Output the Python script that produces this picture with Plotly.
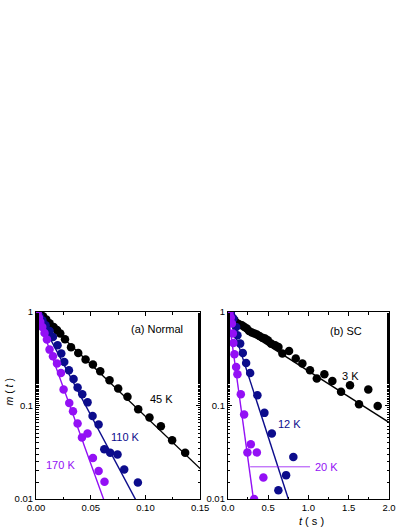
import numpy as np
import plotly.graph_objects as go

# ---------------- data: panel (a) Normal ----------------
t_a_45 = [0.0033, 0.0064, 0.0094, 0.0124, 0.0161, 0.0192, 0.0222, 0.0265, 0.032, 0.0386, 0.0453,
          0.052, 0.0587, 0.0672, 0.0751, 0.0836, 0.0934, 0.1037, 0.1141, 0.1244, 0.1363]
m_a_45 = [0.96, 0.90, 0.83, 0.76, 0.69, 0.64, 0.59, 0.51, 0.42, 0.365, 0.31,
          0.274, 0.232, 0.186, 0.152, 0.124, 0.091, 0.0745, 0.060, 0.0426, 0.0312]
t_a_110 = [0.0015, 0.0033, 0.0058, 0.0088, 0.0124, 0.0155, 0.0197, 0.0231, 0.0258, 0.0301, 0.0343,
           0.0380, 0.0423, 0.0471, 0.0517, 0.0572, 0.0624, 0.0678, 0.0745, 0.0806, 0.0931]
m_a_110 = [0.975, 0.90, 0.815, 0.72, 0.627, 0.541, 0.441, 0.36, 0.292, 0.238, 0.192,
           0.156, 0.132, 0.108, 0.0774, 0.0627, 0.0341, 0.0312, 0.030, 0.0207, 0.0150]
t_a_170 = [0.0015, 0.0027, 0.0039, 0.0057, 0.0078, 0.0100, 0.0124, 0.0155, 0.0192, 0.0228,
           0.0252, 0.0304, 0.0338, 0.0380, 0.0420, 0.0471, 0.0520, 0.0572, 0.0626]
m_a_170 = [0.975, 0.871, 0.782, 0.691, 0.597, 0.507, 0.396, 0.336, 0.281, 0.223,
           0.148, 0.1066, 0.0869, 0.0642, 0.0455, 0.0502, 0.0275, 0.0199, 0.0153]

# fits m = A exp(-t/tau)
fit_a = {"45 K": (1.0, 0.0389), "110 K": (1.0, 0.0197), "170 K": (1.0, 0.0134)}

# ---------------- data: panel (b) SC ----------------
t_b_3 = [0.03, 0.050, 0.082, 0.112, 0.140, 0.174, 0.206, 0.236, 0.264, 0.298, 0.330, 0.360, 0.392,
         0.429, 0.462, 0.496, 0.537, 0.587, 0.628, 0.677, 0.760, 0.843, 0.925, 1.020, 1.104,
         1.198, 1.297, 1.405, 1.516, 1.628, 1.743, 1.860]
m_b_3 = [0.97, 0.885, 0.815, 0.763, 0.739, 0.721, 0.692, 0.665, 0.627, 0.602, 0.588, 0.574, 0.554,
         0.532, 0.520, 0.499, 0.459, 0.441, 0.423, 0.360, 0.383, 0.318, 0.281, 0.238, 0.194,
         0.216, 0.183, 0.140, 0.165, 0.103, 0.148, 0.099]
t_b_12 = [0.037, 0.069, 0.103, 0.119, 0.153, 0.186, 0.227, 0.277, 0.367, 0.454, 0.546, 0.627, 0.723, 0.813]
m_b_12 = [0.975, 0.85, 0.691, 0.564, 0.459, 0.365, 0.285, 0.223, 0.129, 0.0834, 0.0502, 0.0124, 0.018, 0.0282]
t_b_20 = [0.020, 0.037, 0.050, 0.062, 0.069, 0.082, 0.103, 0.119, 0.161, 0.202, 0.243, 0.285, 0.326, 0.360, 0.441]
m_b_20 = [0.975, 0.871, 0.752, 0.588, 0.467, 0.353, 0.258, 0.216, 0.132, 0.080, 0.0315, 0.0386, 0.0100, 0.0315, 0.017]

fit_b = {"3 K": (0.83, 0.79, 0.35), "12 K": (1.0, 0.163, 0.0), "20 K": (1.0, 0.069, 0.0)}

leader_20K_t = [0.277, 1.02]
leader_20K_m = [0.0221, 0.0221]

BLACK = "#000000"
BLUE = "#0c0c8c"
PURPLE = "#9310f5"
FONT = "Liberation Sans, Arial, sans-serif"

fig = go.Figure()

def add_points(t, m, color, xa, ya):
    fig.add_trace(go.Scatter(x=t, y=m, mode="markers", xaxis=xa, yaxis=ya,
                             marker=dict(size=8.5, color=color, line=dict(width=0)),
                             showlegend=False))

def add_fit(A, tau, t0, t1, color, xa, ya):
    tt = np.linspace(t0, t1, 200)
    fig.add_trace(go.Scatter(x=tt, y=A * np.exp(-tt / tau), mode="lines", xaxis=xa, yaxis=ya,
                             line=dict(color=color, width=1.4), showlegend=False))

# panel a
add_fit(*fit_a["45 K"], 0, 0.16, BLACK, "x", "y")
add_fit(*fit_a["110 K"], 0, 0.1, BLUE, "x", "y")
add_fit(*fit_a["170 K"], 0, 0.07, PURPLE, "x", "y")
add_points(t_a_45, m_a_45, BLACK, "x", "y")
add_points(t_a_110, m_a_110, BLUE, "x", "y")
add_points(t_a_170, m_a_170, PURPLE, "x", "y")

# panel b
A, tau, t0 = fit_b["3 K"]
add_fit(A, tau, t0, 2.05, BLACK, "x2", "y2")
A, tau, t0 = fit_b["12 K"]
add_fit(A, tau, t0, 0.8, BLUE, "x2", "y2")
A, tau, t0 = fit_b["20 K"]
add_fit(A, tau, t0, 0.35, PURPLE, "x2", "y2")
fig.add_trace(go.Scatter(x=leader_20K_t, y=leader_20K_m, mode="lines", xaxis="x2", yaxis="y2",
                         line=dict(color=PURPLE, width=0.8), showlegend=False))
add_points(t_b_3, m_b_3, BLACK, "x2", "y2")
add_points(t_b_12, m_b_12, BLUE, "x2", "y2")
add_points(t_b_20, m_b_20, PURPLE, "x2", "y2")

# body margin is removed in the page (post_script), so figure pixel = screen pixel
OFF = 0
W, H = 409 - OFF, 529 - OFF
ML, MT = 35.7 - OFF, 311.7 - OFF
MR = W - (389 - OFF)
MB = H - (499 - OFF)
PW, PH = W - ML - MR, H - MT - MB

def px(sx):
    return (sx - OFF - ML) / PW

def py(sy):
    return 1 - (sy - OFF - MT) / PH

common_ax = dict(showline=True, linecolor="black", linewidth=1, mirror="ticks", ticks="inside",
                 ticklen=4, tickwidth=1, tickcolor="black", showgrid=False, zeroline=False,
                 automargin=False, tickfont=dict(family=FONT, size=9.5, color="black"))
xminor = dict(ticks="inside", ticklen=2.5, tickcolor="black", showgrid=False)
yminor = dict(ticks="inside", ticklen=2.5, tickcolor="black", showgrid=False)

fig.update_layout(
    width=W, height=H, margin=dict(l=ML, r=MR, t=MT, b=MB, autoexpand=False, pad=0),
    paper_bgcolor="white", plot_bgcolor="white",
    font=dict(family=FONT, color="black"),
    xaxis=dict(domain=[0, px(200)], range=[0, 0.15], tickvals=[0, 0.05, 0.10, 0.15],
               tickformat=".2f", minor=dict(dtick=0.025, **xminor), anchor="y", **common_ax),
    yaxis=dict(domain=[0, 1], type="log", range=[-2, 0], tickvals=[0.01, 0.1, 1],
               ticktext=["0.01", "0.1", "1"], minor=yminor, anchor="x", **common_ax),
    xaxis2=dict(domain=[px(227.7), 1], range=[0, 2], tickvals=[0, 0.5, 1.0, 1.5, 2.0],
                tickformat=".1f", minor=dict(dtick=0.25, **xminor), anchor="y2", **common_ax),
    yaxis2=dict(domain=[0, 1], type="log", range=[-2, 0], tickvals=[0.01, 0.1, 1],
                ticktext=["0.01", "0.1", "1"], minor=yminor, anchor="x2", **common_ax),
)

annots = [
    dict(text="(a) Normal", x=0.1105, y=np.log10(0.665), xref="x", yref="y", fontcolor=BLACK),
    dict(text="45 K", x=0.115, y=np.log10(0.116), xref="x", yref="y", fontcolor=BLACK),
    dict(text="110 K", x=0.0815, y=np.log10(0.0462), xref="x", yref="y", fontcolor=BLUE),
    dict(text="170 K", x=0.0222, y=np.log10(0.023), xref="x", yref="y", fontcolor=PURPLE),
    dict(text="(b) SC", x=1.463, y=np.log10(0.627), xref="x2", yref="y2", fontcolor=BLACK),
    dict(text="3 K", x=1.525, y=np.log10(0.206), xref="x2", yref="y2", fontcolor=BLACK),
    dict(text="12 K", x=0.764, y=np.log10(0.064), xref="x2", yref="y2", fontcolor=BLUE),
    dict(text="20 K", x=1.23, y=np.log10(0.022), xref="x2", yref="y2", fontcolor=PURPLE),
]
for a in annots:
    c = a.pop("fontcolor")
    fig.add_annotation(**a, showarrow=False, xanchor="center", yanchor="middle",
                       font=dict(family=FONT, size=11, color=c))

fig.add_annotation(text="<i>m</i> ( <i>t</i> )", x=px(9), y=py(392), xref="paper", yref="paper",
                   xanchor="center", yanchor="middle",
                   textangle=-90, showarrow=False, font=dict(family=FONT, size=10.5, color="black"))
fig.add_annotation(text="<i>t</i> ( s )", x=px(311), y=py(521), xref="paper", yref="paper",
                   xanchor="center", yanchor="middle",
                   showarrow=False, font=dict(family=FONT, size=11, color="black"))

fig.write_html("out.html", config={"displayModeBar": False},
               post_script="document.body.style.margin='0';document.body.style.padding='0';")
